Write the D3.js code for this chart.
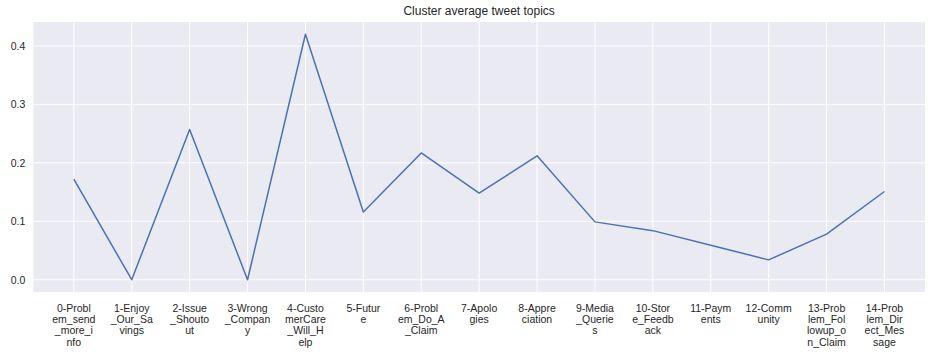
<!DOCTYPE html>
<html><head><meta charset="utf-8">
<script src="https://cdnjs.cloudflare.com/ajax/libs/d3/7.8.5/d3.min.js"></script>
<style>body{margin:0;background:#fff}svg{display:block}text{font-family:"Liberation Sans",Arial,sans-serif;fill:#262626}</style>
</head><body><div id="chart"></div>
<script>
const categories = ["0-Problem_send_more_info","1-Enjoy_Our_Savings","2-Issue_Shoutout","3-Wrong_Company","4-CustomerCare_Will_Help","5-Future","6-Problem_Do_A_Claim","7-Apologies","8-Appreciation","9-Media_Queries","10-Store_Feedback","11-Payments","12-Community","13-Problem_Followup_on_Claim","14-Problem_Direct_Message"];
const values = [0.172,0.0,0.257,0.0,0.420,0.116,0.217,0.148,0.212,0.099,0.084,0.059,0.034,0.078,0.151];
const yTicks = [0.0,0.1,0.2,0.3,0.4];
const title = "Cluster average tweet topics";

const W=938,H=354;
const m={left:33.3,right:13,top:22,bottom:62};
const svg=d3.select("#chart").append("svg").attr("width",W).attr("height",H);
const iw=W-m.left-m.right, ih=H-m.top-m.bottom;
const g=svg.append("g").attr("transform",`translate(${m.left},${m.top})`);
const n=categories.length;
const x=d3.scaleLinear().domain([-0.7,n-1+0.7]).range([0,iw]);
const ymin=0,ymax=d3.max(values),pad=(ymax-ymin)*0.05;
const y=d3.scaleLinear().domain([ymin-pad,ymax+pad]).range([ih,0]);
g.append("rect").attr("width",iw).attr("height",ih).attr("fill","#EAEAF2");
g.selectAll(".vg").data(d3.range(n)).join("line").attr("x1",d=>x(d)).attr("x2",d=>x(d)).attr("y1",0).attr("y2",ih).attr("stroke","#fff").attr("stroke-width",1);
g.selectAll(".hg").data(yTicks).join("line").attr("x1",0).attr("x2",iw).attr("y1",d=>y(d)).attr("y2",d=>y(d)).attr("stroke","#fff").attr("stroke-width",1);
const ya=g.append("g").call(d3.axisLeft(y).tickValues(yTicks).tickFormat(d3.format(".1f")).tickSize(0).tickPadding(8));
ya.select(".domain").remove();
ya.selectAll("text").attr("font-size",10.5).attr("font-family","Liberation Sans, Arial, sans-serif").attr("fill","#262626");
const line=d3.line().x((d,i)=>x(i)).y(d=>y(d));
g.append("path").datum(values).attr("d",line).attr("fill","none").attr("stroke","#4C72B0").attr("stroke-width",1.5).attr("stroke-linejoin","round");
function chunk(s){const r=[];for(let i=0;i<s.length;i+=7)r.push(s.slice(i,i+7));return r;}
const xl=g.append("g").selectAll("text").data(categories).join("text")
 .attr("x",(d,i)=>x(i)).attr("y",ih+19.5).attr("text-anchor","middle").attr("font-size",10.5);
xl.each(function(d){const t=d3.select(this);chunk(d).forEach((c,k)=>{t.append("tspan").attr("x",t.attr("x")).attr("dy",k?11.4:0).text(c);});});
svg.append("text").attr("x",m.left+iw/2).attr("y",15).attr("text-anchor","middle").attr("font-size",12).text(title);
</script></body></html>
